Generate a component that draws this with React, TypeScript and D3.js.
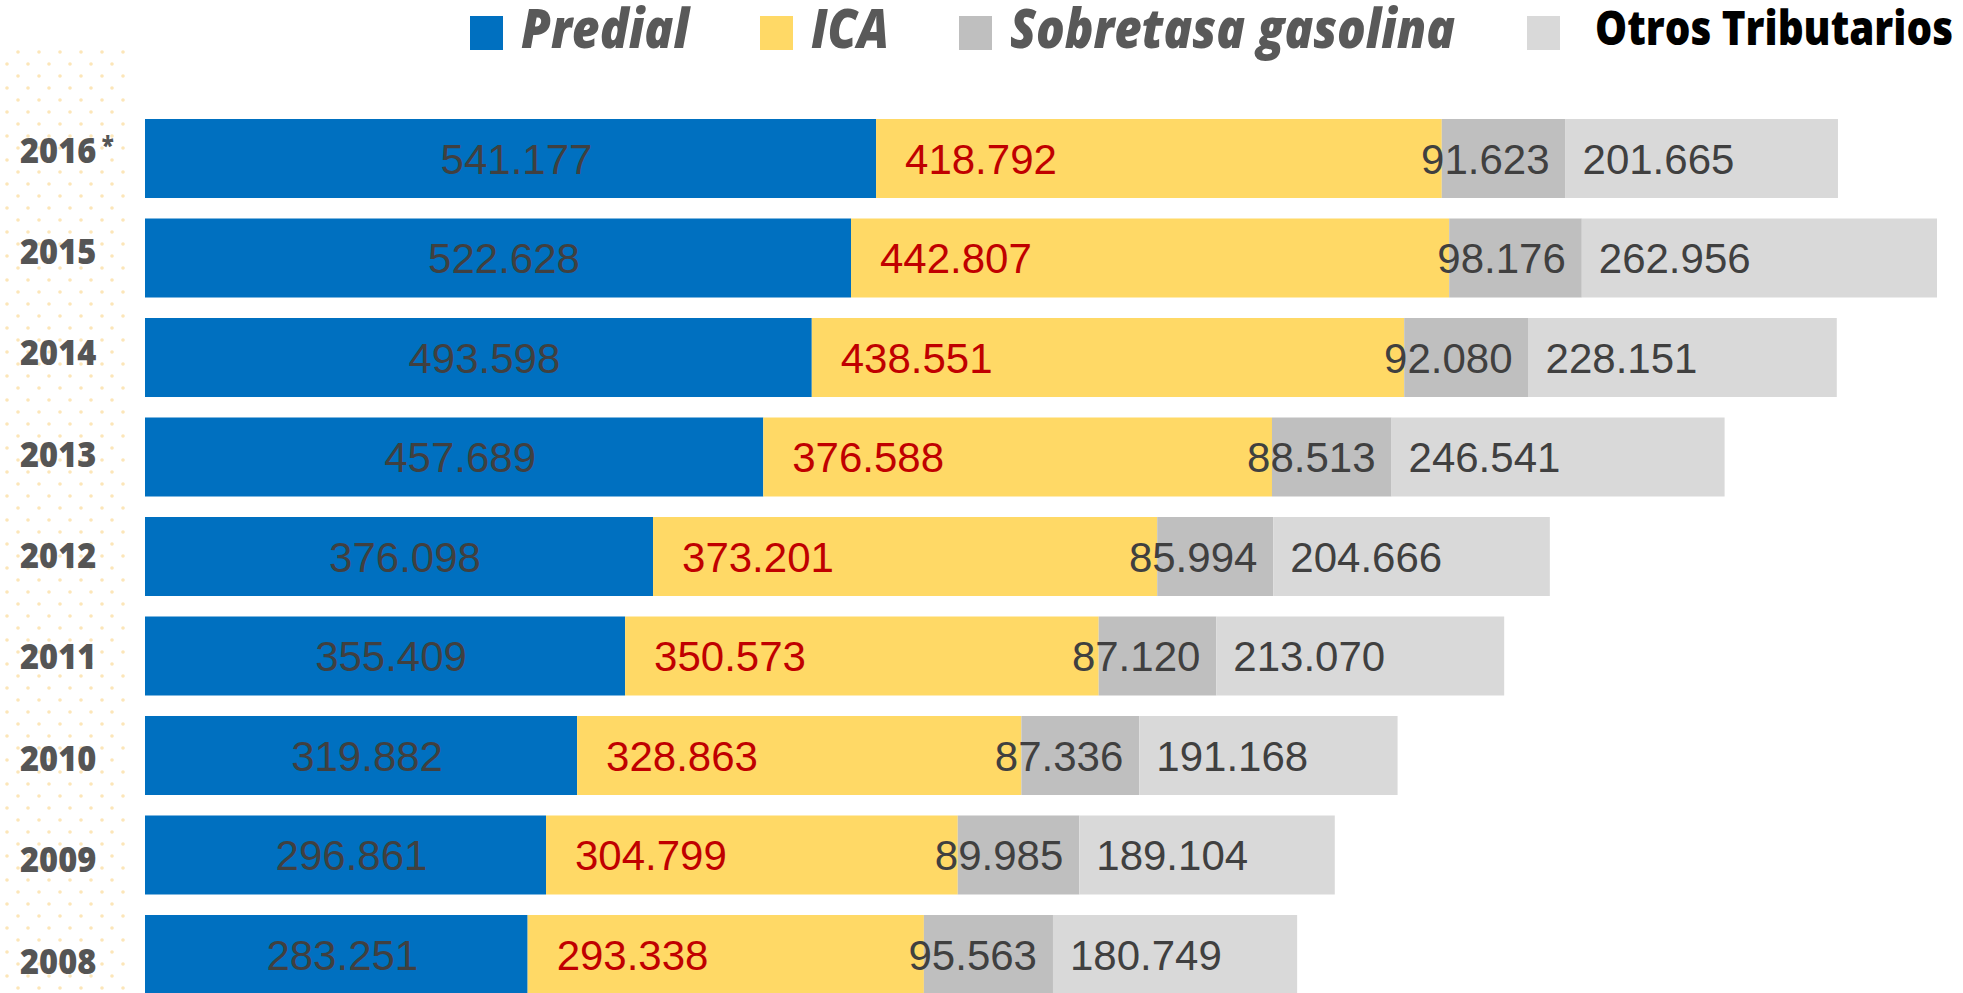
import React, { useEffect, useRef } from "react";
import * as d3 from "d3";

const years = ["2016*", "2015", "2014", "2013", "2012", "2011", "2010", "2009", "2008"];
const predial = [541177, 522628, 493598, 457689, 376098, 355409, 319882, 296861, 283251];
const ica = [418792, 442807, 438551, 376588, 373201, 350573, 328863, 304799, 293338];
const sobretasa = [91623, 98176, 92080, 88513, 85994, 87120, 87336, 89985, 95563];
const otros = [201665, 262956, 228151, 246541, 204666, 213070, 191168, 189104, 180749];

const seriesNames = ["Predial", "ICA", "Sobretasa gasolina", "Otros Tributarios"];
const seriesColors = ["#0070C0", "#FFD966", "#BFBFBF", "#D9D9D9"];
const labelColors = ["#404040", "#C00000", "#404040", "#404040"];

const App = () => {
  const svgRef = useRef<SVGSVGElement>(null);

  useEffect(() => {
    document.body.style.margin = "0";
    const width = 1963;
    const height = 993;

    const svg = d3.select(svgRef.current).attr("width", width).attr("height", height);
    svg.selectAll("*").remove();

    // dotted background behind the year column
    const defs = svg.append("defs");
    const pat = defs
      .append("pattern")
      .attr("id", "dots")
      .attr("patternUnits", "userSpaceOnUse")
      .attr("width", 21)
      .attr("height", 24);
    pat.append("circle").attr("cx", 18).attr("cy", 4).attr("r", 1.8).attr("fill", "#FCE6B8");
    pat.append("circle").attr("cx", 7).attr("cy", 16).attr("r", 1.8).attr("fill", "#FCE6B8");
    svg.append("rect").attr("x", 0).attr("y", 45).attr("width", 128).attr("height", height - 45).attr("fill", "url(#dots)");

    const rows = years.map((year, i) => ({
      year,
      values: [predial[i], ica[i], sobretasa[i], otros[i]],
    }));

    const x = d3.scaleLinear().domain([0, 1326567]).range([145, 1937]);
    const y = d3.scaleBand().domain(years).range([119, 994]).paddingInner(0.206).paddingOuter(0);
    const yLabel = d3.scalePoint().domain(years).range([150, 961]);

    const fmt = d3.formatLocale({ decimal: ",", thousands: ".", grouping: [3], currency: ["$", ""] }).format(",d");

    const stack = d3.stack<any>().keys([0, 1, 2, 3] as any).value((d: any, k: any) => d.values[k]);
    const stacked = stack(rows);

    const layers = svg
      .append("g")
      .selectAll("g")
      .data(stacked)
      .join("g")
      .attr("fill", (_d, i) => seriesColors[i]);

    layers
      .selectAll("rect")
      .data((d) => d.map((s) => ({ s, year: (s.data as any).year })))
      .join("rect")
      .attr("x", (d) => x(d.s[0]))
      .attr("y", (d) => y(d.year)!)
      .attr("width", (d) => x(d.s[1]) - x(d.s[0]))
      .attr("height", y.bandwidth());

    // value labels
    const labels = svg.append("g").attr("font-family", "'Liberation Sans', Arial, sans-serif").attr("font-size", 42);
    stacked.forEach((layer, k) => {
      labels
        .append("g")
        .attr("fill", labelColors[k])
        .selectAll("text")
        .data(layer)
        .join("text")
        .attr("x", (d) => {
          if (k === 0) return (x(d[0]) + x(d[1])) / 2 + 6;
          if (k === 2) return x(d[1]) - 16;
          if (k === 1) return x(d[0]) + 29;
          return x(d[0]) + 17;
        })
        .attr("y", (d) => y((d.data as any).year)! + y.bandwidth() / 2)
        .attr("dy", "0.36em")
        .attr("text-anchor", k === 0 ? "middle" : k === 2 ? "end" : "start")
        .text((d) => fmt(d[1] - d[0]));
    });

    // year labels
    const yl = svg
      .append("g")
      .attr("font-family", "'Open Sans', sans-serif")
      .attr("font-weight", 800)
      .attr("font-size", 35)
      .attr("fill", "#555555");
    years.forEach((year) => {
      const t = yl
        .append("text")
        .attr("transform", `translate(20,${yLabel(year)}) scale(0.93,1)`)
        .attr("dy", "0.36em");
      t.append("tspan").text(year.replace("*", ""));
      if (year.includes("*")) {
        t.append("tspan").attr("dx", 6).attr("dy", "-0.35em").attr("font-size", 24).text("*");
      }
    });

    // legend
    const legendSquares = [470, 760, 959, 1527];
    const legendText = [
      { x: 521, w: 168 },
      { x: 811, w: 78 },
      { x: 1010, w: 445 },
      { x: 1595, w: 358 },
    ];
    const legend = svg.append("g");
    seriesNames.forEach((name, i) => {
      legend
        .append("rect")
        .attr("x", legendSquares[i])
        .attr("y", 16)
        .attr("width", 33)
        .attr("height", 34)
        .attr("fill", seriesColors[i]);
      const last = i === 3;
      legend
        .append("text")
        .attr("x", legendText[i].x)
        .attr("y", last ? 45 : 48)
        .attr("font-family", "'Open Sans', sans-serif")
        .attr("font-weight", 800)
        .attr("font-style", last ? "normal" : "italic")
        .attr("font-size", last ? 48 : 54)
        .attr("fill", last ? "#000000" : "#595959")
        .attr("textLength", legendText[i].w)
        .attr("lengthAdjust", "spacingAndGlyphs")
        .text(name);
    });
  }, []);

  return (
    <div style={{ width: 1963, height: 993, background: "#fff" }}>
      <svg ref={svgRef} style={{ display: "block" }} />
    </div>
  );
};

export default App;
